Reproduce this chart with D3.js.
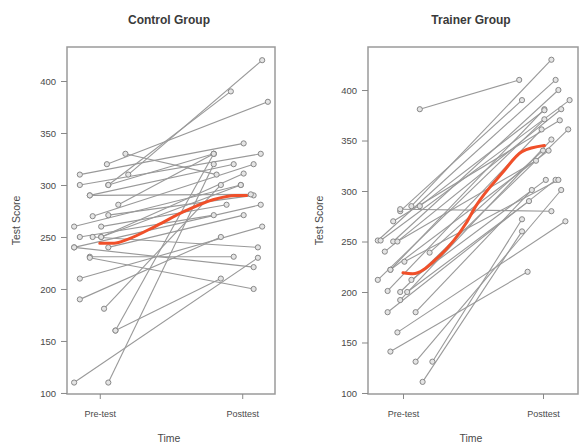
<!DOCTYPE html>
<html><head><meta charset="utf-8">
<script src="https://cdn.jsdelivr.net/npm/d3@7"></script>
<style>body{margin:0;background:#fff}svg{display:block;font-family:Arial,"Liberation Sans",sans-serif}</style>
</head><body>
<svg id="chart" width="580" height="444"></svg>
<script>
// ---------- DATA ----------
const timeLabels = ["Pre-test", "Posttest"];
const timeTicks = [1, 2];
const yTicks = [100, 150, 200, 250, 300, 350, 400];

// Control group: pre/post scores with jittered time positions
const controlPre      = [310, 320, 330, 310, 300, 300, 290, 281, 270, 271, 260, 260, 250, 250, 250, 240, 240, 231, 230, 210, 190, 181, 160, 160, 110, 110, 300, 290, 250, 240];
const controlPost     = [340, 380, 310, 420, 330, 390, 320, 330, 320, 290, 300, 281, 271, 240, 311, 281, 271, 231, 200, 260, 250, 300, 210, 330, 230, 320, 330, 291, 300, 221];
const controlPreTime  = [0.86, 1.05, 1.18, 1.20, 0.86, 1.06, 0.93, 1.13, 0.95, 1.06, 0.82, 1.01, 0.86, 0.95, 1.01, 0.82, 1.06, 0.93, 0.93, 0.86, 0.86, 1.03, 1.11, 1.11, 0.82, 1.06, 1.06, 0.93, 1.01, 0.82];
const controlPostTime = [2.01, 2.18, 1.82, 2.14, 2.13, 1.92, 1.94, 1.80, 2.08, 2.08, 1.99, 1.89, 1.80, 2.11, 2.01, 2.13, 2.01, 1.94, 2.08, 2.14, 1.85, 1.85, 1.85, 1.80, 2.11, 1.80, 1.80, 2.06, 1.99, 2.08];

// Trainer group
const trainerPre      = [381, 285, 280, 251, 250, 251, 240, 222, 212, 201, 200, 192, 212, 180, 180, 160, 141, 131, 131, 111, 282, 285, 239, 250, 200, 222, 270, 230];
const trainerPost     = [410, 430, 390, 410, 400, 390, 381, 381, 371, 361, 361, 351, 311, 311, 301, 270, 220, 301, 272, 260, 280, 380, 340, 330, 290, 340, 370, 311];
const trainerPreTime  = [1.12, 1.06, 0.98, 0.82, 0.93, 0.84, 0.87, 0.91, 0.82, 0.89, 0.98, 0.98, 1.06, 0.89, 1.09, 0.96, 0.91, 1.09, 1.21, 1.14, 0.98, 1.12, 1.19, 0.96, 1.03, 0.91, 0.93, 1.01];
const trainerPostTime = [1.83, 2.06, 1.85, 2.09, 2.11, 2.19, 2.13, 2.01, 2.01, 1.99, 2.18, 2.06, 2.02, 2.09, 1.92, 2.16, 1.89, 2.13, 1.85, 1.85, 2.06, 2.01, 2.00, 1.95, 1.90, 2.04, 2.12, 2.11];

// Smoothed mean trend (red)
const controlTrendTime  = [1.00, 1.10, 1.20, 1.40, 1.60, 1.80, 1.95, 2.03];
const controlTrendValue = [244, 244, 248, 261, 275, 286, 290, 290];
const trainerTrendTime  = [1.00, 1.07, 1.24, 1.45, 1.52, 1.71, 1.85, 2.01];
const trainerTrendValue = [219, 218, 233, 268, 285, 318, 339, 345];

// ---------- DRAW ----------
const svg = d3.select("#chart");
const textColor = "#4a4a4a";

function panel(cfg) {
  const x = d3.scaleLinear().domain(cfg.xDomain).range([cfg.left, cfg.right]);
  const y = d3.scaleLinear().domain(cfg.yDomain).range([cfg.bottom, cfg.top]);
  const g = svg.append("g");

  // title
  g.append("text").attr("x", (cfg.left + cfg.right) / 2 - 2).attr("y", 24)
    .attr("text-anchor", "middle").attr("font-size", 12).attr("font-weight", "bold")
    .attr("fill", "#3a3a3a").text(cfg.title);

  // pair lines
  const n = cfg.pre.length;
  const idx = d3.range(n);
  g.append("g").selectAll("line").data(idx).join("line")
    .attr("x1", i => x(cfg.preTime[i])).attr("y1", i => y(cfg.pre[i]))
    .attr("x2", i => x(cfg.postTime[i])).attr("y2", i => y(cfg.post[i]))
    .attr("stroke", "#999").attr("stroke-width", 1.1);

  // points
  const pts = idx.map(i => ({t: cfg.preTime[i], v: cfg.pre[i]}))
    .concat(idx.map(i => ({t: cfg.postTime[i], v: cfg.post[i]})));
  g.append("g").selectAll("circle").data(pts).join("circle")
    .attr("cx", d => x(d.t)).attr("cy", d => y(d.v)).attr("r", 2.6)
    .attr("fill", "#e4e4e4").attr("stroke", "#888").attr("stroke-width", 1);

  // trend line
  const trend = cfg.trendTime.map((t, i) => [t, cfg.trendValue[i]]);
  g.append("path").datum(trend)
    .attr("d", d3.line().x(d => x(d[0])).y(d => y(d[1])).curve(d3.curveMonotoneX))
    .attr("fill", "none").attr("stroke", "#f0502a").attr("stroke-width", 3)
    .attr("stroke-linecap", "round");

  // box
  g.append("rect").attr("x", cfg.left).attr("y", cfg.top)
    .attr("width", cfg.right - cfg.left).attr("height", cfg.bottom - cfg.top)
    .attr("fill", "none").attr("stroke", "#9a9a9a").attr("stroke-width", 1.5);

  // y axis
  const ya = g.append("g").attr("transform", `translate(${cfg.left},0)`)
    .call(d3.axisLeft(y).tickValues(yTicks).tickSize(6).tickPadding(5).tickFormat(d3.format("d")));
  ya.select(".domain").remove();
  ya.selectAll("line").attr("stroke", "#888");
  ya.selectAll("text").attr("font-size", 9.5).attr("fill", textColor).attr("font-family", "Arial, Liberation Sans, sans-serif");

  // x axis
  const xa = g.append("g").attr("transform", `translate(0,${cfg.bottom})`)
    .call(d3.axisBottom(x).tickValues(timeTicks).tickSize(5).tickPadding(12)
      .tickFormat((d, i) => timeLabels[i]));
  xa.select(".domain").remove();
  xa.selectAll("line").attr("stroke", "#888");
  xa.selectAll("text").attr("font-size", 9).attr("fill", textColor).attr("font-family", "Arial, Liberation Sans, sans-serif");

  // axis titles
  g.append("text").attr("x", (cfg.left + cfg.right) / 2 - 2).attr("y", 442)
    .attr("text-anchor", "middle").attr("font-size", 10.5).attr("fill", textColor).text("Time");
  g.append("text").attr("transform", `translate(${cfg.ylabX},${(cfg.top + cfg.bottom) / 2}) rotate(-90)`)
    .attr("text-anchor", "middle").attr("font-size", 10.5).attr("fill", textColor).text("Test Score");
}

panel({
  title: "Control Group", left: 67, right: 275, top: 47, bottom: 394,
  xDomain: [0.77, 2.23], yDomain: [99, 432.7], ylabX: 20,
  pre: controlPre, post: controlPost, preTime: controlPreTime, postTime: controlPostTime,
  trendTime: controlTrendTime, trendValue: controlTrendValue
});
panel({
  title: "Trainer Group", left: 368, right: 578, top: 47, bottom: 394,
  xDomain: [0.75, 2.25], yDomain: [99, 442.6], ylabX: 323,
  pre: trainerPre, post: trainerPost, preTime: trainerPreTime, postTime: trainerPostTime,
  trendTime: trainerTrendTime, trendValue: trainerTrendValue
});
</script>
</body></html>
